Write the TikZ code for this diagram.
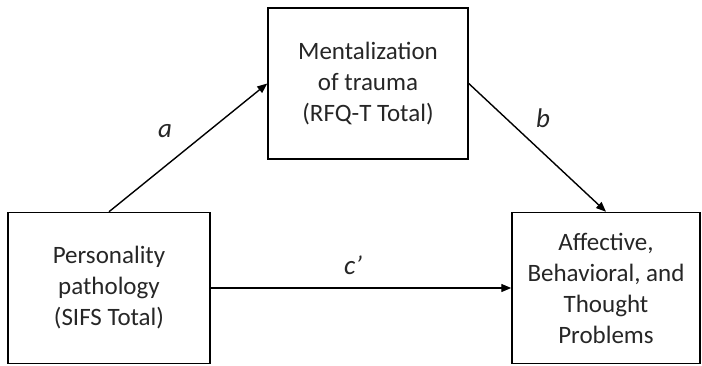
\documentclass[tikz,border=0pt]{standalone}
\usepackage{fontspec}
\setmainfont{Carlito}
\usetikzlibrary{arrows.meta}

\tikzstyle{bS}=[rectangle,minimum height = 151pt,inner sep = 0pt,draw,line width=1.5pt,font=\fontsize{25}{31}\selectfont,align=center,text=black!85]
\tikzstyle{eS}=[line width=1.4pt,-{Triangle[length=10pt,width=8pt]}]
\tikzstyle{eNS}=[inner sep = 0pt,font=\fontsize{27}{31}\selectfont\itshape,text=black!85]

\begin{document}
\begin{tikzpicture}[x=1pt,y=-1pt]
    \useasboundingbox (0,0) rectangle (702,365);
    \draw (109,288) node[bS,minimum width=202pt] (pers) {Personality\\pathology\\(SIFS Total)};
    \draw (368,83.5) node[bS,minimum width=200pt] (ment) {Mentalization\\of trauma\\(RFQ-T Total)};
    \draw (606,288) node[bS,minimum width=188pt] (prob) {Affective,\\Behavioral, and\\Thought\\Problems};
    \path
        (pers.north) edge[eS] (ment.west)
        (ment.east) edge[eS] (prob.north)
        (pers.east) edge[eS] (prob.west)
    ;
    \draw (165,131) node[eNS] (la) {a};
    \draw (543,118) node[eNS] (lb) {b};
    \draw (353,265) node[eNS] (lc) {c’};
\end{tikzpicture}
\end{document}
